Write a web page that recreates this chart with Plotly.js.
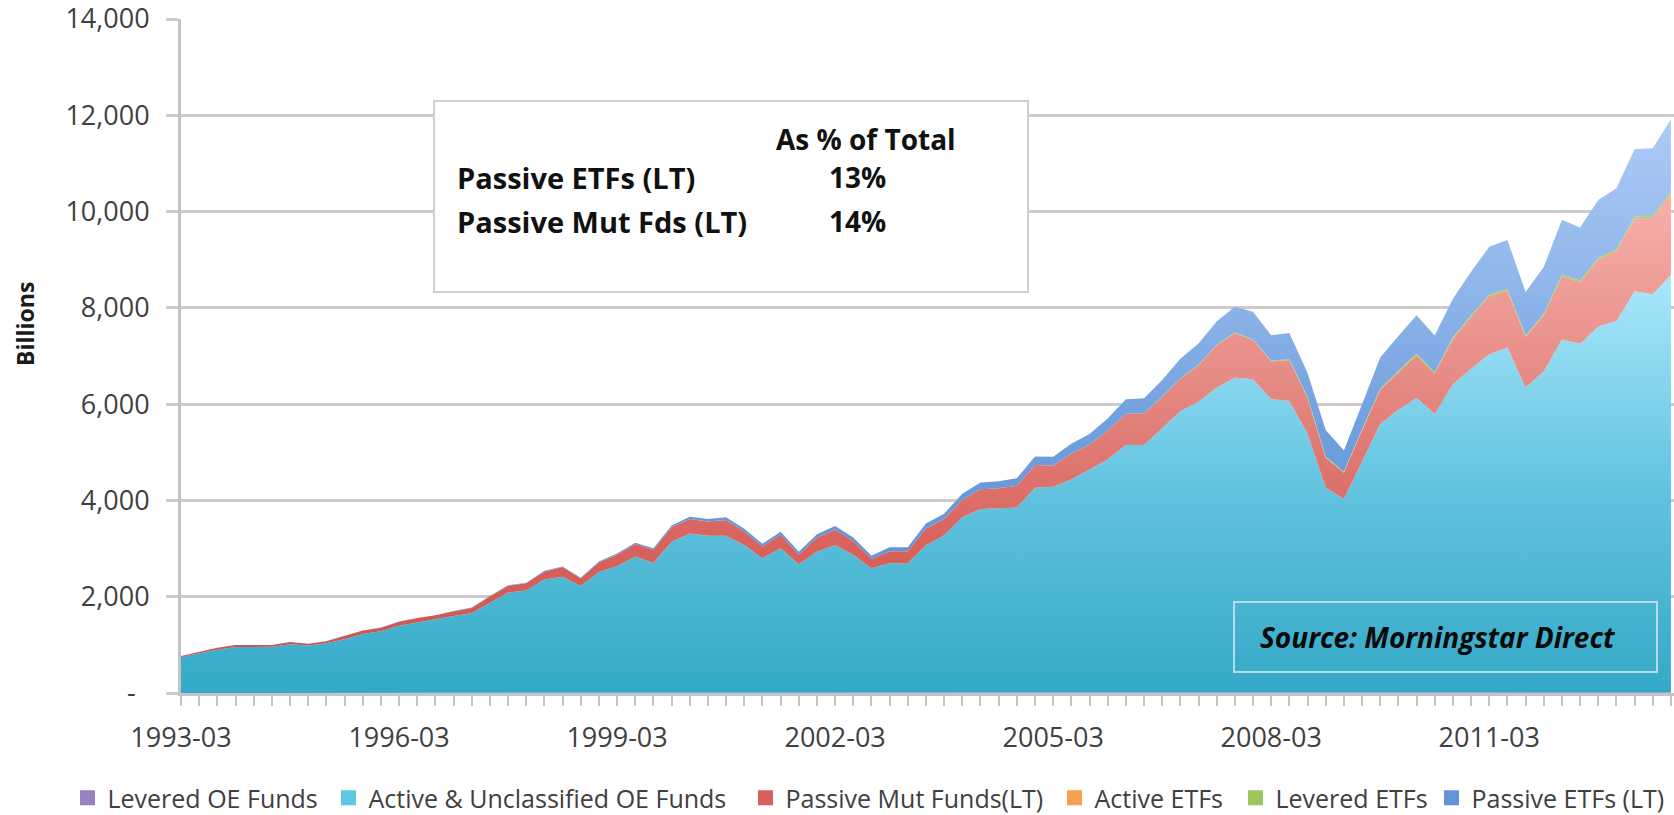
<!DOCTYPE html>
<html>
<head>
<meta charset="utf-8">
<script src="https://cdn.plot.ly/plotly-3.0.1.min.js"></script>
<style>
  html, body { margin: 0; padding: 0; background: #ffffff; }
  #chart { width: 1674px; height: 815px; }
</style>
</head>
<body>
<div id="chart"></div>
<script>
// Quarter-end categories
const quarters = [
  "1993-03","1993-06","1993-09","1993-12","1994-03","1994-06","1994-09","1994-12",
  "1995-03","1995-06","1995-09","1995-12","1996-03","1996-06","1996-09","1996-12",
  "1997-03","1997-06","1997-09","1997-12","1998-03","1998-06","1998-09","1998-12",
  "1999-03","1999-06","1999-09","1999-12","2000-03","2000-06","2000-09","2000-12",
  "2001-03","2001-06","2001-09","2001-12","2002-03","2002-06","2002-09","2002-12",
  "2003-03","2003-06","2003-09","2003-12","2004-03","2004-06","2004-09","2004-12",
  "2005-03","2005-06","2005-09","2005-12","2006-03","2006-06","2006-09","2006-12",
  "2007-03","2007-06","2007-09","2007-12","2008-03","2008-06","2008-09","2008-12",
  "2009-03","2009-06","2009-09","2009-12","2010-03","2010-06","2010-09","2010-12",
  "2011-03","2011-06","2011-09","2011-12","2012-03","2012-06","2012-09","2012-12",
  "2013-03","2013-06","2013-09"
];

// Labelled x ticks
const xTickLabels = ["1993-03","1996-03","1999-03","2002-03","2005-03","2008-03","2011-03"];

// Y ticks (Excel accounting format: zero shown as "-")
const yTickVals = [0, 2000, 4000, 6000, 8000, 10000, 12000, 14000];
const yTickText = ["-\u00a0\u00a0", "2,000", "4,000", "6,000", "8,000", "10,000", "12,000", "14,000"];

// Series (billions), stacked bottom to top
const leveredOEFunds = [
  0,0,0,0, 0.5,0.5,0.5,0.5, 1,1,1,1, 1.5,1.5,2,2, 2,2.5,2.5,3, 3,3,3,3.5,
  4,4,4.5,5, 6,6,6,5, 5,5,4.5,5, 5,5,4,4, 4,5,5,6, 6,6,6,7, 7,7,8,8,
  9,9,10,10, 11,12,12,12, 11,11,10,8, 7,8,9,9, 10,9,10,11, 12,12,10,11,
  12,12,13,13, 14,14,15
];
const activeOEFunds = [
  750,825,900,955, 955,958,1012,985, 1034,1117,1227,1284, 1397,1467,1526,1596,
  1656,1876,2086,2125, 2353,2413,2219,2512, 2628,2832,2694,3138, 3308,3259,3259,3068,
  2795,3000,2672,2930, 3067,2861,2588,2689, 2689,3064,3270,3644, 3816,3829,3849,4258,
  4278,4428,4632,4842, 5141,5141,5490,5840, 6039,6333,6538,6503, 6094,6054,5375,4262,
  4023,4812,5576,5876, 6125,5786,6405,6724, 7023,7163,6335,6674, 7333,7243,7602,7712,
  8331,8271,8670
];
const passiveMutFunds = [
  16,28,40,42, 42,40,46,38, 42,62,70,72, 82,88,86,100, 110,128,140,152, 170,200,158,200,
  240,258,280,300, 300,298,330,280, 245,280,200,290, 320,290,190,250, 250,350,340,360,
  410,420,450,470, 440,540,520,600, 650,660,650,680, 760,880,930,820, 780,850,740,615,
  545,640,710,780, 880,840,940,1080, 1210,1180,1050,1160, 1310,1280,1390,1450,
  1510,1580,1690
];
const activeETFs = [
  0,0,0,0, 0,0,0,0, 0,0,0,0, 0,0,0,0, 0,0,0,0, 0,0,0,0,
  0,0,0,0, 0,0,0,0, 0,0,0,0, 0,0,0,0, 0,0,0,0, 0,0,0,0,
  0,0,0,0, 0,0,0,0, 0,0,0,0, 0.3,0.5,0.5,0.5, 0.6,0.8,1,1, 1.5,1.5,2,2.5,
  3,3,3,3.5, 4,4,5,5, 6,6,7
];
const leveredETFs = [
  0,0,0,0, 0,0,0,0, 0,0,0,0, 0,0,0,0, 0,0,0,0, 0,0,0,0,
  0,0,0,0, 0,0,0,0, 0,0,0,0, 0,0,0,0, 0,0,0,0, 0,0,0,0,
  0,0,0,0, 0,1,3,5, 8,10,13,15, 18,20,22,25, 22,25,25,27, 28,28,30,30,
  32,32,30,30, 32,30,32,33, 35,35,38
];
const passiveETFs = [
  0.5,0.6,0.8,0.9, 1,1,1.1,1.1, 1.3,1.6,2,2.2, 2.6,3,3.5,4.5, 5.5,7,8,9, 12,14,14,18,
  24,28,30,36, 48,52,56,58, 56,62,58,70, 78,74,68,82, 85,100,110,130, 140,145,155,180,
  180,200,220,250, 300,310,350,410, 440,480,530,570, 530,540,500,550, 440,510,650,720,
  800,760,800,900, 990,1020,900,970, 1140,1100,1200,1270, 1400,1410,1500
];

const seriesNames = ["Levered OE Funds", "Active & Unclassified OE Funds", "Passive Mut Funds(LT)",
                     "Active ETFs", "Levered ETFs", "Passive ETFs (LT)"];
const seriesData = [leveredOEFunds, activeOEFunds, passiveMutFunds, activeETFs, leveredETFs, passiveETFs];
const legendColors = ["#9b80c1", "#5ec8e3", "#d6605a", "#f6a04d", "#9dc75c", "#6494d8"];
const fills = [
  {color: "#9b80c1"},
  {grad: {type: "vertical", start: 0, stop: 8700,
    colorscale: [[0, "#33a9c7"], [0.5, "#64c4e0"], [1, "#aae8fc"]]}},
  {grad: {type: "vertical", start: 0, stop: 10500,
    colorscale: [[0, "#c84f4a"], [0.3, "#d8635d"], [0.65, "#e78e88"], [1, "#f8b1ac"]]}},
  {color: "#f6a04d"},
  {color: "#a9d05a"},
  {grad: {type: "vertical", start: 0, stop: 12000,
    colorscale: [[0, "#5887cf"], [0.45, "#6f9fdd"], [0.7, "#8fb5ea"], [1, "#aecbf6"]]}}
];

const W = 1674, H = 815;
// left edge (px) of each legend swatch
const legendSwatchLeft = [80, 341, 758, 1067, 1248, 1444];
const legendIds = ["legend", "legend2", "legend3", "legend4", "legend5", "legend6"];

const FONT = "Open Sans, sans-serif";
const traces = [];
seriesData.forEach((vals, k) => {
  const t = {
    type: "scatter", mode: "lines", x: quarters, y: vals,
    stackgroup: "one", name: seriesNames[k], showlegend: false,
    line: {width: 0, color: legendColors[k]}, hoverinfo: "skip"
  };
  if (fills[k].grad) { t.fillgradient = fills[k].grad; t.fillcolor = legendColors[k]; }
  else { t.fillcolor = fills[k].color; }
  traces.push(t);
});
// legend entries with square swatches, one legend box each
seriesNames.forEach((nm, k) => {
  traces.push({
    type: "scatter", mode: "markers", x: [null], y: [null], name: nm,
    legend: legendIds[k],
    marker: {symbol: "square", size: 15, color: legendColors[k]},
    showlegend: true, hoverinfo: "skip"
  });
});

const plotL = 181, plotT = 19, plotB = 693;
const plotW = W - plotL, plotH = plotB - plotT;
const px = X => (X - plotL) / plotW;
const py = Y => (plotB - Y) / plotH;

const layout = {
  width: W, height: H,
  margin: {l: plotL, r: 0, t: plotT, b: H - plotB, pad: 0},
  paper_bgcolor: "#ffffff", plot_bgcolor: "#ffffff",
  font: {family: FONT, size: 25, color: "#404040"},
  showlegend: true,
  xaxis: {
    type: "category", range: [0, (W - plotL) / 18.17],
    tickmode: "array", tickvals: quarters,
    ticktext: quarters.map(q => xTickLabels.includes(q) ? q : ""),
    ticks: "outside", ticklen: 10, tickwidth: 2, tickcolor: "#c4c4c4",
    ticklabelstandoff: 9, ticklabeloverflow: "allow",
    showgrid: false, zeroline: false,
    showline: true, linecolor: "#c4c4c4", linewidth: 3,
    tickfont: {family: FONT, size: 27, color: "#404040"}, tickangle: 0
  },
  yaxis: {
    range: [0, 14000], tickmode: "array", tickvals: yTickVals, ticktext: yTickText,
    ticks: "outside", ticklen: 12, tickwidth: 3, tickcolor: "#cccccc",
    ticklabelstandoff: 11, ticklabeloverflow: "allow",
    showgrid: true, gridcolor: "#cccccc", gridwidth: 3,
    zeroline: false, showline: true, linecolor: "#c4c4c4", linewidth: 3,
    tickfont: {family: FONT, size: 27, color: "#404040"}
  },
  shapes: [
    {type: "rect", xref: "paper", yref: "paper",
     x0: px(434), x1: px(1028), y0: py(292), y1: py(101),
     fillcolor: "#ffffff", line: {color: "#cfcfcf", width: 2}, layer: "above"},
    {type: "rect", xref: "paper", yref: "paper",
     x0: px(1234), x1: px(1657), y0: py(672), y1: py(602),
     fillcolor: "rgba(0,0,0,0)", line: {color: "rgba(220,235,240,0.75)", width: 2}, layer: "above"}
  ],
  annotations: [
    {xref: "paper", yref: "paper", x: px(25), y: py(324), text: "<b>Billions</b>",
     textangle: -90, showarrow: false, font: {family: FONT, size: 23, color: "#1a1a1a"},
     xanchor: "center", yanchor: "middle"},
    {xref: "paper", yref: "paper", x: px(958), y: py(139), text: "<b>As % of Total</b>",
     showarrow: false, xanchor: "right", yanchor: "middle",
     font: {family: FONT, size: 28, color: "#111111"}},
    {xref: "paper", yref: "paper", x: px(455), y: py(177), text: "<b>Passive ETFs (LT)</b>",
     showarrow: false, xanchor: "left", yanchor: "middle",
     font: {family: FONT, size: 29, color: "#111111"}},
    {xref: "paper", yref: "paper", x: px(857), y: py(177), text: "<b>13%</b>",
     showarrow: false, xanchor: "center", yanchor: "middle",
     font: {family: FONT, size: 28, color: "#111111"}},
    {xref: "paper", yref: "paper", x: px(455), y: py(221), text: "<b>Passive Mut Fds (LT)</b>",
     showarrow: false, xanchor: "left", yanchor: "middle",
     font: {family: FONT, size: 29, color: "#111111"}},
    {xref: "paper", yref: "paper", x: px(857), y: py(221), text: "<b>14%</b>",
     showarrow: false, xanchor: "center", yanchor: "middle",
     font: {family: FONT, size: 28, color: "#111111"}},
    {xref: "paper", yref: "paper", x: px(1438), y: py(637), text: "<b><i>Source: Morningstar Direct</i></b>",
     showarrow: false, xanchor: "center", yanchor: "middle",
     font: {family: FONT, size: 28, color: "#0a0a0a"}}
  ],
  hovermode: false
};

legendIds.forEach((id, k) => {
  layout[id] = {
    orientation: "h", xref: "container", yref: "container",
    x: (legendSwatchLeft[k] - 12.5) / W, xanchor: "left",
    y: (H - 798) / H, yanchor: "middle",
    font: {family: FONT, size: 25, color: "#404040"},
    itemwidth: 30, bgcolor: "rgba(0,0,0,0)", borderwidth: 0
  };
});

Plotly.newPlot("chart", traces, layout, {displayModeBar: false, staticPlot: true});
</script>
</body>
</html>
